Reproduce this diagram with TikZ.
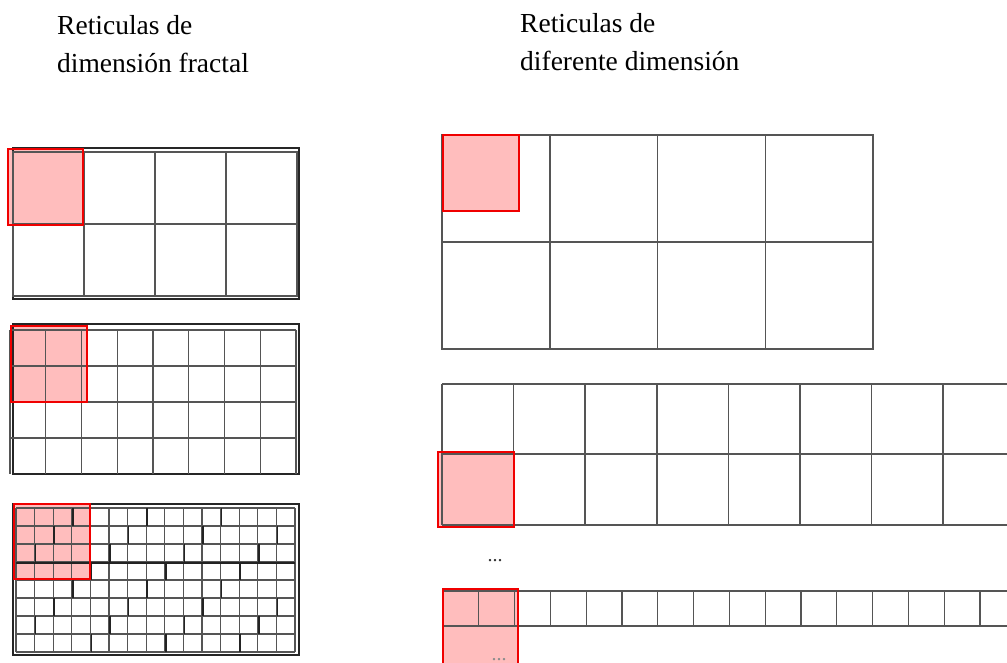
\documentclass[tikz,border=0pt]{standalone}
\usepackage{fontspec}
\setmainfont{Liberation Serif}
\definecolor{pinkfill}{RGB}{255,189,189}
\definecolor{gridgray}{RGB}{85,85,85}
\definecolor{darkgray2}{RGB}{35,35,35}
\definecolor{redline}{RGB}{240,0,0}
\begin{document}
\begin{tikzpicture}[x=1pt,y=-1pt,
  titletext/.style={anchor=base west,inner sep=0pt,font=\fontsize{27.5}{30}\selectfont,text=black},
  dotstext/.style={anchor=base,inner sep=0pt,font=\fontsize{20}{20}\selectfont},
  gl/.style={draw=gridgray,line width=1.3pt},
  gld/.style={draw=darkgray2,line width=1.6pt},
  outerbox/.style={draw=black!85,line width=1.8pt},
  pinkarea/.style={fill=pinkfill},
  redborder/.style={draw=redline,line width=2pt}]
\useasboundingbox (0,0) rectangle (1007,662);
\clip (0,0) rectangle (1007,662);

% titles
\node[titletext] (t1) at (57,34) {Reticulas de};
\node[titletext] (t2) at (57,72) {dimensión fractal};
\node[titletext] (t3) at (520,32) {Reticulas de};
\node[titletext] (t4) at (520,70) {diferente dimensión};

% ---- left grid 1 (4 x 2)
\fill[pinkarea] (8,149) rectangle (83,225);
\draw[outerbox] (13,148) rectangle (299,299);
\draw[gl] (13,152) rectangle (297,296);
\foreach \x in {84,155,226} \draw[gl] (\x,152) -- (\x,296);
\draw[gl] (13,224) -- (297,224);
\draw[redborder] (8,149) rectangle (83,225);

% ---- left grid 2 (8 x 4)
\fill[pinkarea] (11,326) rectangle (87,402);
\draw[outerbox] (13,324) rectangle (299,474);
\foreach \i in {0,...,8} \draw[gl] ({10+\i*35.75},330) -- ({10+\i*35.75},474);
\foreach \y in {330,366,402,438} \draw[gl] (10,\y) -- (296,\y);
\draw[redborder] (11,326) rectangle (87,402);

% ---- left grid 3 (15 x 8)
\fill[pinkarea] (14,504) rectangle (90,579);
\draw[outerbox] (13,504) rectangle (299,655);
\foreach \i in {0,...,15} \draw[gl,line width=1.1pt] ({16+\i*18.6},508) -- ({16+\i*18.6},652);
\foreach \j in {0,...,8} \draw[gl,line width=1.1pt] (16,{508+\j*18}) -- (295,{508+\j*18});
% darker jagged segments
\foreach \i in {1,...,14} {
  \foreach \j in {0,...,7} {
    \pgfmathtruncatemacro{\r}{mod(\i*7+\j*11+3,4)}
    \ifnum\r=0
      \draw[gld] ({16+\i*18.6+1},{508+\j*18}) -- ({16+\i*18.6+1},{526+\j*18});
    \fi
  }
}
\foreach \i in {0,...,14} {
  \foreach \j in {1,...,7} {
    \pgfmathtruncatemacro{\r}{mod(\i*5+\j*13+1,5)}
    \ifnum\r=0
      \draw[gld] ({16+\i*18.6},{508+\j*18+1}) -- ({34.6+\i*18.6},{508+\j*18+1});
    \fi
  }
}
\draw[redborder] (14,504) rectangle (90,579);

% ---- right grid 1 (4 x 2, big)
\fill[pinkarea] (443,135) rectangle (519,211);
\draw[gl,line width=1.5pt] (442,135) rectangle (873,349);
\foreach \x in {549.75,657.5,765.25} \draw[gl,line width=1.5pt] (\x,135) -- (\x,349);
\draw[gl,line width=1.5pt] (442,242) -- (873,242);
\draw[redborder] (443,135) rectangle (519,211);

% ---- right grid 2 (wide, 2 rows)
\fill[pinkarea] (438,452) rectangle (514,527);
\foreach \y in {384,454,525} \draw[gl,line width=1.5pt] (442,\y) -- (1010,\y);
\foreach \i in {0,...,8} \draw[gl,line width=1.5pt] ({442+\i*71.6},384) -- ({442+\i*71.6},525);
\draw[redborder] (438,452) rectangle (514,527);

\node[dotstext,text=black!80] (d1) at (495,561) {...};

% ---- right grid 3 (strip)
\fill[pinkarea] (443,589) rectangle (518,670);
\foreach \y in {591,626} \draw[gl,line width=1.3pt] (443,\y) -- (1010,\y);
\foreach \i in {0,...,16} \draw[gl,line width=1.3pt] ({443+\i*35.8},591) -- ({443+\i*35.8},626);
\draw[redborder] (443,589) rectangle (518,670);

\node[dotstext,text=black!45] (d2) at (499,660) {...};
\end{tikzpicture}
\end{document}
